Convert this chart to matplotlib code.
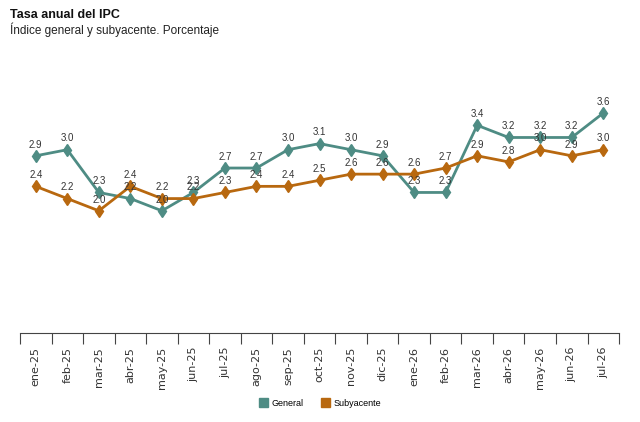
import matplotlib.pyplot as plt
import numpy as np

plt.rcParams['font.family'] = ['Liberation Sans', 'DejaVu Sans']

months = ['ene-25', 'feb-25', 'mar-25', 'abr-25', 'may-25', 'jun-25', 'jul-25',
          'ago-25', 'sep-25', 'oct-25', 'nov-25', 'dic-25', 'ene-26', 'feb-26',
          'mar-26', 'abr-26', 'may-26', 'jun-26', 'jul-26']
general = [2.9, 3.0, 2.3, 2.2, 2.0, 2.3, 2.7, 2.7, 3.0, 3.1, 3.0, 2.9,
           2.3, 2.3, 3.4, 3.2, 3.2, 3.2, 3.6]
subyacente = [2.4, 2.2, 2.0, 2.4, 2.2, 2.2, 2.3, 2.4, 2.4, 2.5, 2.6, 2.6,
              2.6, 2.7, 2.9, 2.8, 3.0, 2.9, 3.0]

c_gen = '#4e8c84'
c_sub = '#b8680f'

fig = plt.figure(figsize=(6.4, 4.22), dpi=100)
ax = fig.add_axes([0.03125, 0.211, 0.936, 0.579])

x = np.arange(len(months))
ax.plot(x, general, color=c_gen, lw=2, marker='d', ms=6, label='General')
ax.plot(x, subyacente, color=c_sub, lw=2, marker='d', ms=6, label='Subyacente')

for xi, v in zip(x, general):
    ax.annotate(f'{v:.1f}', (xi, v), xytext=(0, 4.5), textcoords='offset points',
                ha='center', va='bottom', fontsize=7, color='#333333')
for xi, v in zip(x, subyacente):
    ax.annotate(f'{v:.1f}', (xi, v), xytext=(0, 4.5), textcoords='offset points',
                ha='center', va='bottom', fontsize=7, color='#333333')

ax.set_xlim(-0.5, len(months) - 0.5)
ax.set_ylim(0, 4.0)
ax.set_yticks([])
for s in ['top', 'right', 'left']:
    ax.spines[s].set_visible(False)
ax.spines['bottom'].set_color('#444444')

# ticks between categories, labels centred on categories
ax.set_xticks(np.arange(len(months) + 1) - 0.5)
ax.set_xticklabels([])
ax.set_xticks(x, minor=True)
ax.set_xticklabels(months, minor=True, rotation=90, fontsize=8, color='#333333',
                   family='DejaVu Sans')
ax.tick_params(axis='x', which='major', direction='out', length=8, color='#444444')
ax.tick_params(axis='x', which='minor', length=0, pad=10)

fig.text(0.016, 0.965, 'Tasa anual del IPC', fontsize=9, fontweight='bold',
         va='center', color='#111111')
fig.text(0.016, 0.93, 'Índice general y subyacente. Porcentaje', fontsize=8.5,
         va='center', color='#222222')

fig.legend(handles=[plt.Rectangle((0, 0), 1, 1, color=c_gen),
                    plt.Rectangle((0, 0), 1, 1, color=c_sub)],
           labels=['General', 'Subyacente'], loc='center', ncol=2,
           bbox_to_anchor=(0.5, 0.045), frameon=False, fontsize=6.5,
           handlelength=1.0, handleheight=1.0, columnspacing=2.0, handletextpad=0.4)

plt.savefig('out.png', dpi=100)
